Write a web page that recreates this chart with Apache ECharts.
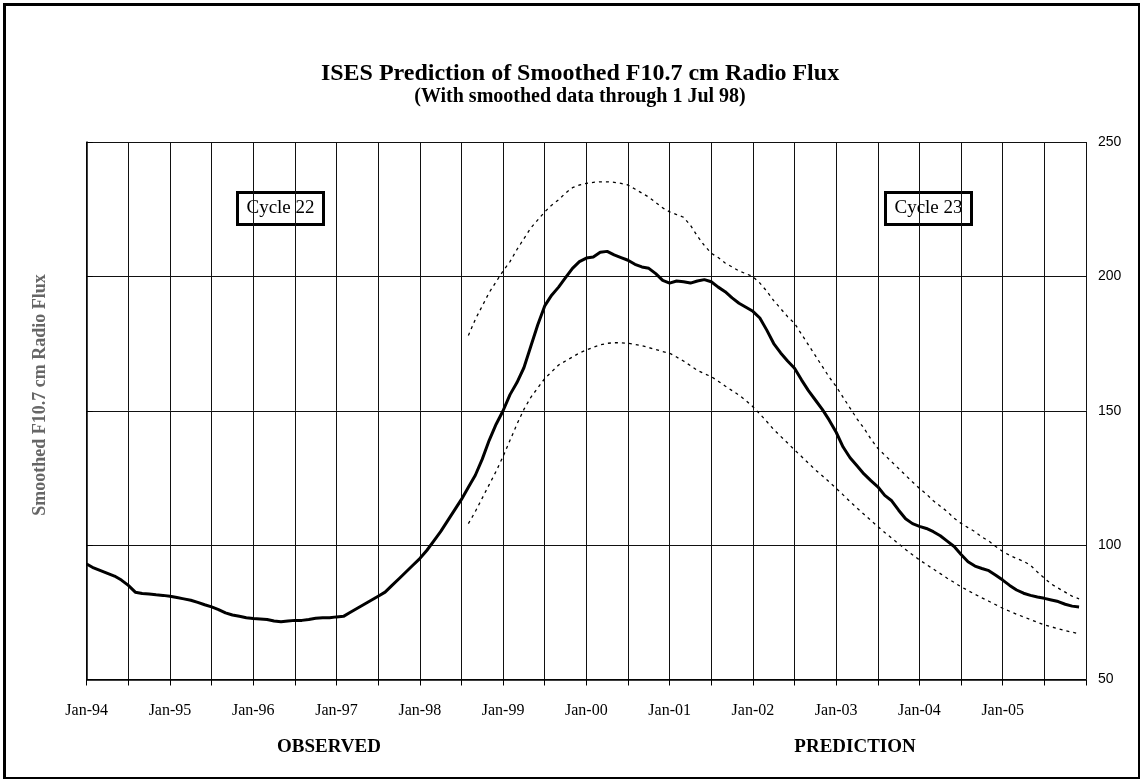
<!DOCTYPE html>
<html><head><meta charset="utf-8">
<script src="https://cdn.jsdelivr.net/npm/echarts@6/dist/echarts.min.js"></script>
<style>html,body{margin:0;padding:0;background:#fff}#c{width:1140px;height:779px}</style>
</head><body><div id="c"></div>
<script>
// Month index 0 = Jan-94
const xTickLabels = ['Jan-94','Jan-95','Jan-96','Jan-97','Jan-98','Jan-99','Jan-00','Jan-01','Jan-02','Jan-03','Jan-04','Jan-05'];
const axisMonths = 144;
const yTicks = [50, 100, 150, 200, 250];

// Observed smoothed flux, Jan-94 .. Jul-98
const observed = [93,91.5,90.5,89.5,88.5,87,85,82.5,82,81.8,81.5,81.3,
  81,80.5,80,79.5,78.7,77.8,77,76,74.8,74,73.5,73,
  72.7,72.5,72.3,71.8,71.5,71.8,72,72,72.3,72.8,73,73,
  73.3,73.5,75,76.5,78,79.5,81,82.5,85,87.5,90,92.5,
  95,98,101.5,105,109,113,117];

// Prediction starts Aug-98
const predictionStart = 55;
const predictedMean = [121.5,126,132,139,145,
  150,156,160.5,166,174,182,189,193,196,199.5,203,205.5,
  206.8,207.2,209,209.3,208,207,206,204.5,203.5,203,201,198.5,
  197.5,198.3,198,197.5,198.3,198.8,198,196,194.3,192,190,188.5,
  187,184.5,180,175,171.5,168.5,165.8,161.5,157.5,154,150.5,146.5,
  142,136.5,132.5,129.5,126.5,124,121.7,118.5,116.5,113,109.8,108,
  107,106.2,105,103.5,101.5,99.5,96.5,93.8,92.2,91.3,90.5,88.8,
  87,85,83.3,82.1,81.3,80.7,80.2,79.6,79,78,77.3,77];
const predictedHigh = [178,184,189,194,198,
  202,205.5,210,214,218,221,224,226.5,228.5,231,233,234,
  234.6,235,235.2,235.2,235,234.6,234,232.5,231,229.5,227.5,225.5,
  224,223,222,219,215,211.5,208.6,207,205,203.5,202,201,
  199.9,197.5,194.5,191,188,185,182.5,178.5,174.5,170.5,166.5,162.5,
  159,155,151,147,143.5,139.5,136,133.5,131,128.5,126,123.5,
  121.1,119,116.5,114.5,112.5,110,108.1,106.5,105,103,101.5,99.5,
  97.6,96.2,95,94,92.5,90,87.7,85.5,84,82.5,81,80];
const predictedLow = [108,112.5,117.5,122.5,127.5,
  133,139,145,150.5,155,158.5,162,164.5,167,168.5,170,171.5,
  172.6,173.6,174.5,175.1,175.3,175.3,175.1,174.7,174.2,173.5,172.8,172,
  171.4,170,168.5,166.8,165,163.8,162.7,161,159.2,157.5,155.8,153.8,
  151.5,148.8,146,143,140.5,138,135.4,133,130.5,128,125.8,123.5,
  121.1,118.7,116.2,113.8,111.5,109.2,106.9,104.7,102.6,100.5,98.4,96.4,
  94.5,92.8,91.1,89.4,87.7,86.1,84.5,83.1,81.7,80.4,79.1,77.8,
  76.5,75.4,74.3,73.3,72.3,71.3,70.3,69.6,68.9,68.2,67.6,67];

const meanLine = observed.map((v,i)=>[i,v]).concat(predictedMean.map((v,i)=>[predictionStart+i,v]));
const highLine = predictedHigh.map((v,i)=>[predictionStart+i,v]);
const lowLine = predictedLow.map((v,i)=>[predictionStart+i,v]);

const serif = 'Liberation Serif, Times New Roman, serif';
const chart = echarts.init(document.getElementById('c'), null, {renderer:'canvas'});
chart.setOption({
  animation: false,
  backgroundColor: '#fff',
  grid: {left: 86.7, right: 54, top: 142, bottom: 99.5, containLabel: false},
  xAxis: {
    type: 'value', min: 0, max: axisMonths, interval: 6,
    axisLine: {show: true, lineStyle: {color: '#000', width: 1.5}},
    axisTick: {show: true, length: 6, inside: false, lineStyle: {color: '#000', width: 1}},
    axisLabel: {
      show: true, margin: 23, color: '#000', fontFamily: serif, fontSize: 16,
      formatter: v => (v % 12 === 0 && v/12 < xTickLabels.length) ? xTickLabels[v/12] : ''
    },
    splitLine: {show: true, lineStyle: {color: '#111', width: 1}}
  },
  yAxis: {
    type: 'value', position: 'right', min: yTicks[0], max: yTicks[yTicks.length-1], interval: 50,
    axisLine: {show: true, lineStyle: {color: '#000', width: 1.5}},
    axisTick: {show: true, length: 6, inside: false, lineStyle: {color: '#000', width: 1}},
    axisLabel: {show: true, margin: 12, color: '#000', fontFamily: 'Liberation Sans, Arial, sans-serif', fontSize: 14},
    splitLine: {show: true, lineStyle: {color: '#111', width: 1}}
  },
  series: [
    {type: 'line', data: highLine, showSymbol: false, silent: true,
     lineStyle: {color: '#000', width: 1.3, type: [3, 4]}, z: 3},
    {type: 'line', data: lowLine, showSymbol: false, silent: true,
     lineStyle: {color: '#000', width: 1.3, type: [3, 4]}, z: 3},
    {type: 'line', data: meanLine, showSymbol: false, silent: true,
     lineStyle: {color: '#000', width: 3}, z: 4}
  ],
  graphic: [
    {type: 'rect', left: 2, top: 2, shape: {width: 1135, height: 774},
     style: {fill: 'none', stroke: '#000', lineWidth: 3}, silent: true},
    {type: 'text', x: 580, y: 74,
     style: {text: 'ISES Prediction of Smoothed F10.7 cm Radio Flux', font: 'bold 24px ' + serif, fill: '#000', align: 'center', verticalAlign: 'middle'}},
    {type: 'text', x: 580, y: 97,
     style: {text: '(With smoothed data through 1 Jul 98)', font: 'bold 20px ' + serif, fill: '#000', align: 'center', verticalAlign: 'middle'}},
    {type: 'text', x: 40, y: 395, rotation: Math.PI/2,
     style: {text: 'Smoothed F10.7 cm Radio Flux', font: 'bold 18px ' + serif, fill: '#666', align: 'center', verticalAlign: 'middle'}},
    {type: 'group', left: 236, top: 191, children: [
      {type: 'rect', shape: {x: 0, y: 0, width: 86, height: 32}, style: {fill: '#fff', stroke: '#000', lineWidth: 3}},
      {type: 'text', style: {x: 43, y: 16, text: 'Cycle 22', font: '19px ' + serif, fill: '#000', align: 'center', verticalAlign: 'middle'}}
    ]},
    {type: 'group', left: 884, top: 191, children: [
      {type: 'rect', shape: {x: 0, y: 0, width: 86, height: 32}, style: {fill: '#fff', stroke: '#000', lineWidth: 3}},
      {type: 'text', style: {x: 43, y: 16, text: 'Cycle 23', font: '19px ' + serif, fill: '#000', align: 'center', verticalAlign: 'middle'}}
    ]},
    {type: 'text', x: 329, y: 747,
     style: {text: 'OBSERVED', font: 'bold 19px ' + serif, fill: '#000', align: 'center', verticalAlign: 'middle'}},
    {type: 'text', x: 855, y: 747,
     style: {text: 'PREDICTION', font: 'bold 19px ' + serif, fill: '#000', align: 'center', verticalAlign: 'middle'}}
  ]
});
</script></body></html>
